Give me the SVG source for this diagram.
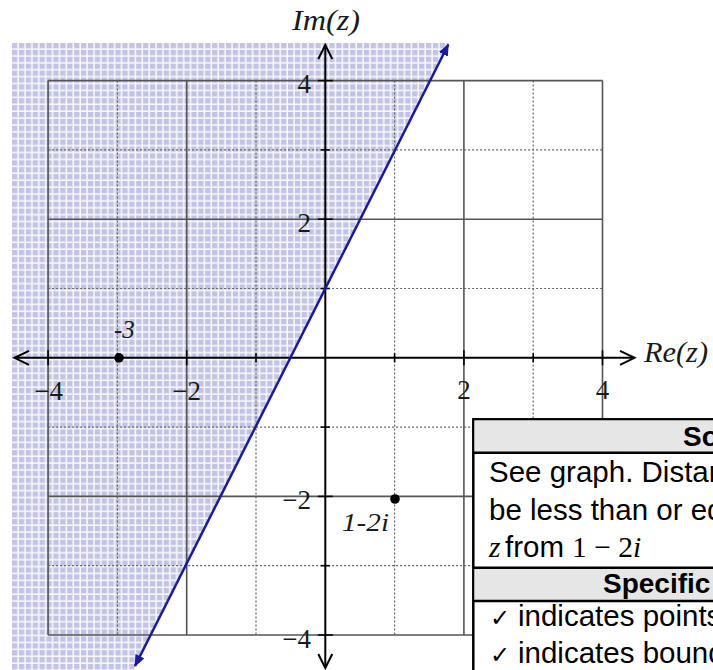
<svg xmlns="http://www.w3.org/2000/svg" width="713" height="670" viewBox="0 0 713 670">
<defs>
  <pattern id="shade" patternUnits="userSpaceOnUse" x="12" y="43" width="6.9" height="6.9">
    <rect width="6.9" height="6.9" fill="#f7f7fc"/>
    <rect x="0" y="0" width="5.3" height="5.3" fill="#c3c3e3"/>
  </pattern>
  <marker id="blueHead" viewBox="0 0 12 10" refX="11" refY="5" markerWidth="12" markerHeight="10" markerUnits="userSpaceOnUse" orient="auto-start-reverse">
    <path d="M0,0 L12,5 L0,10 Z" fill="#1a1a9a"/>
  </marker>
</defs>
<style>
  .solid { stroke: #555; stroke-width: 1.6; fill: none; }
  .dot { stroke: #666; stroke-width: 1.2; stroke-dasharray: 2 2; fill: none; }
  .axis { stroke: #000; stroke-width: 2; fill: none; }
  .tick { stroke: #000; stroke-width: 1.6; }
  .chev { stroke: #000; stroke-width: 2; fill: none; }
  .num { font-family: "Liberation Serif", "DejaVu Serif", serif; font-size: 27px; fill: #1a1a1a; }
  .ital { font-family: "Liberation Serif", "DejaVu Serif", serif; font-style: italic; fill: #1a1a1a; }
  .cell { font-family: "Liberation Sans", Arial, "DejaVu Sans", sans-serif; font-size: 29.5px; fill: #000; }
  .head { font-family: "Liberation Sans", Arial, "DejaVu Sans", sans-serif; font-size: 28px; font-weight: bold; fill: #000; }
  .math { font-family: "Liberation Serif", "DejaVu Serif", serif; }
  .check { font-family: "DejaVu Sans", sans-serif; font-size: 24px; }
</style>
<rect width="713" height="670" fill="#fff"/>

<g id="shaded-region">
  <polygon points="12,43 448.5,43 133.5,670 12,670" fill="url(#shade)"/>
</g>

<g id="grid">
  <line class="solid" x1="48.1" y1="80.6" x2="48.1" y2="635"/>
  <line class="dot" x1="117.4" y1="80.6" x2="117.4" y2="635"/>
  <line class="solid" x1="186.7" y1="80.6" x2="186.7" y2="635"/>
  <line class="dot" x1="256" y1="80.6" x2="256" y2="635"/>
  <line class="dot" x1="394.6" y1="80.6" x2="394.6" y2="635"/>
  <line class="solid" x1="463.9" y1="80.6" x2="463.9" y2="635"/>
  <line class="dot" x1="533.2" y1="80.6" x2="533.2" y2="635"/>
  <line class="solid" x1="602.5" y1="80.6" x2="602.5" y2="635"/>
  <line class="solid" x1="48.1" y1="80.6" x2="602.5" y2="80.6"/>
  <line class="dot" x1="48.1" y1="149.9" x2="602.5" y2="149.9"/>
  <line class="solid" x1="48.1" y1="219.2" x2="602.5" y2="219.2"/>
  <line class="dot" x1="48.1" y1="288.5" x2="602.5" y2="288.5"/>
  <line class="dot" x1="48.1" y1="427.1" x2="602.5" y2="427.1"/>
  <line class="solid" x1="48.1" y1="496.4" x2="602.5" y2="496.4"/>
  <line class="dot" x1="48.1" y1="565.7" x2="602.5" y2="565.7"/>
  <line class="solid" x1="48.1" y1="635" x2="602.5" y2="635"/>
</g>

<g id="axes">
  <line class="axis" x1="14" y1="357.8" x2="634" y2="357.8"/>
  <line class="axis" x1="325.3" y1="45" x2="325.3" y2="668"/>
  <polyline class="chev" points="29,350.8 14.5,357.8 29,364.8"/>
  <polyline class="chev" points="620,350.8 634.5,357.8 620,364.8"/>
  <polyline class="chev" points="318.3,59 325.3,45 332.3,59"/>
  <polyline class="chev" points="318.3,654 325.3,668 332.3,654"/>
  <g class="tick">
    <line x1="48.1" y1="350.3" x2="48.1" y2="365.3"/>
    <line x1="117.4" y1="353.3" x2="117.4" y2="362.3"/>
    <line x1="186.7" y1="350.3" x2="186.7" y2="365.3"/>
    <line x1="256" y1="353.3" x2="256" y2="362.3"/>
    <line x1="394.6" y1="353.3" x2="394.6" y2="362.3"/>
    <line x1="463.9" y1="350.3" x2="463.9" y2="365.3"/>
    <line x1="533.2" y1="353.3" x2="533.2" y2="362.3"/>
    <line x1="602.5" y1="350.3" x2="602.5" y2="365.3"/>
    <line x1="317.8" y1="80.6" x2="332.8" y2="80.6"/>
    <line x1="320.8" y1="149.9" x2="329.8" y2="149.9"/>
    <line x1="317.8" y1="219.2" x2="332.8" y2="219.2"/>
    <line x1="320.8" y1="288.5" x2="329.8" y2="288.5"/>
    <line x1="320.8" y1="427.1" x2="329.8" y2="427.1"/>
    <line x1="317.8" y1="496.4" x2="332.8" y2="496.4"/>
    <line x1="320.8" y1="565.7" x2="329.8" y2="565.7"/>
    <line x1="317.8" y1="635" x2="332.8" y2="635"/>
  </g>
  <text class="num" x="311" y="93" text-anchor="end">4</text>
  <text class="num" x="311" y="232" text-anchor="end">2</text>
  <text class="num" x="311" y="509" text-anchor="end">−2</text>
  <text class="num" x="311" y="648" text-anchor="end">−4</text>
  <text class="num" x="63" y="400" text-anchor="end">−4</text>
  <text class="num" x="201" y="400" text-anchor="end">−2</text>
  <text class="num" x="464" y="399" text-anchor="middle">2</text>
  <text class="num" x="602.5" y="399" text-anchor="middle">4</text>
  <text class="ital" x="326" y="30" font-size="29" text-anchor="middle" textLength="68" lengthAdjust="spacingAndGlyphs">Im(z)</text>
  <text class="ital" x="644" y="362" font-size="29" textLength="64" lengthAdjust="spacingAndGlyphs">Re(z)</text>
</g>

<g id="connectors">
  <line x1="135" y1="666" x2="448.3" y2="44.5" stroke="#1a1a9a" stroke-width="2.5" marker-start="url(#blueHead)" marker-end="url(#blueHead)"/>
</g>

<g id="point-minus3">
  <circle cx="119" cy="357.8" r="4.8" fill="#000"/>
  <text class="ital" x="114" y="338" font-size="25">-3</text>
</g>

<g id="point-1-2i">
  <circle cx="395" cy="499" r="4.8" fill="#000"/>
  <text class="ital" x="342" y="531" font-size="26" textLength="47" lengthAdjust="spacingAndGlyphs">1-2i</text>
</g>

<g id="marking-table">
  <rect x="473.3" y="419.3" width="260" height="270" fill="#fff" stroke="#000" stroke-width="2.5"/>
  <rect x="474.5" y="420.5" width="240" height="32.2" fill="#e6e6e6"/>
  <rect x="474.5" y="567.7" width="240" height="33.3" fill="#e6e6e6"/>
  <line x1="473.3" y1="452.7" x2="713" y2="452.7" stroke="#000" stroke-width="2.5"/>
  <line x1="473.3" y1="567.7" x2="713" y2="567.7" stroke="#000" stroke-width="2.5"/>
  <line x1="473.3" y1="601" x2="713" y2="601" stroke="#000" stroke-width="2.5"/>
  <text class="head" x="683" y="446">So</text>
  <text class="cell" x="489" y="482">See graph. Distan</text>
  <text class="cell" x="489" y="520">be less than or eq</text>
  <text class="cell" y="557"><tspan class="math" font-style="italic" x="489">z</tspan><tspan x="505">from</tspan><tspan class="math" x="572">1 − 2</tspan><tspan class="math" font-style="italic">i</tspan></text>
  <text class="head" x="603" y="593">Specific</text>
  <text class="cell" y="626"><tspan class="check" x="490">✓</tspan><tspan x="518">indicates points</tspan></text>
  <text class="cell" y="663"><tspan class="check" x="490">✓</tspan><tspan x="518">indicates bound</tspan></text>
</g>
</svg>
